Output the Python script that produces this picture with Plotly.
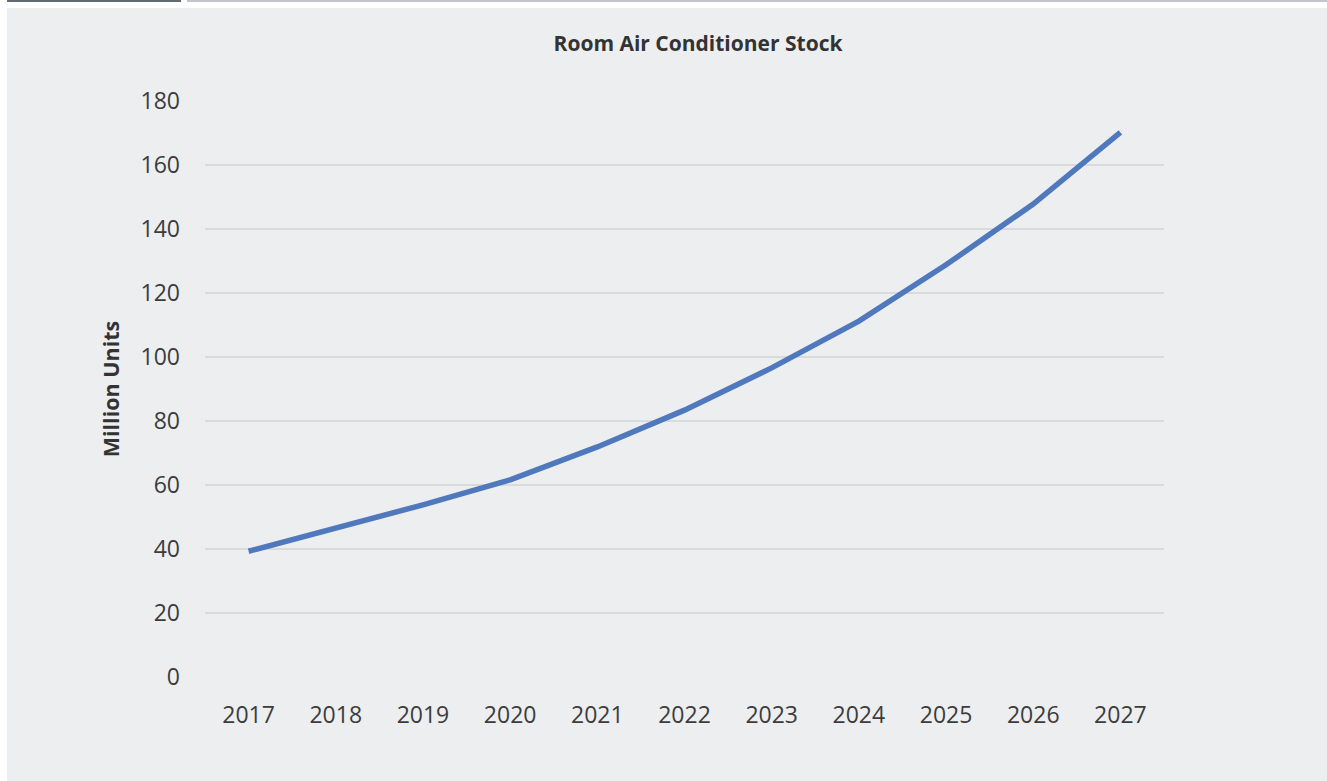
import plotly.graph_objects as go

# ==========================================================
# Data
# ==========================================================

years = ["2017", "2018", "2019", "2020", "2021", "2022",
         "2023", "2024", "2025", "2026", "2027"]

stock_million = [39.3, 46.4, 53.8, 61.6, 71.9, 83.4,
                 96.6, 111.2, 128.8, 147.8, 170.2]

y_ticks = [0, 20, 40, 60, 80, 100, 120, 140, 160, 180]

# ==========================================================
# Geometry (pixels)
# ==========================================================

W, H = 1327, 781
L, R, T, B = 205, 1164, 101, 677


def px_x(x):
    return (x - L) / (R - L)


def px_y(y):
    return (B - y) / (B - T)


fig = go.Figure()

fig.add_trace(
    go.Scatter(
        x=years,
        y=stock_million,
        mode="lines",
        line=dict(color="#4f78bd", width=5.5, shape="linear"),
        showlegend=False,
    )
)

# panel background + header strips
shapes = [
    dict(type="rect", xref="paper", yref="paper",
         x0=px_x(7), x1=px_x(W + 5), y0=px_y(H + 5), y1=px_y(8),
         fillcolor="#edeef0", line=dict(width=0), layer="below"),
    dict(type="rect", xref="paper", yref="paper",
         x0=px_x(7), x1=px_x(181), y0=px_y(2), y1=px_y(-1),
         fillcolor="#5f6b73", line=dict(width=0), layer="below"),
    dict(type="rect", xref="paper", yref="paper",
         x0=px_x(187), x1=px_x(W + 5), y0=px_y(2), y1=px_y(-1),
         fillcolor="#bfc6cc", line=dict(width=0), layer="below"),
]

fig.update_layout(
    width=W,
    height=H,
    paper_bgcolor="white",
    plot_bgcolor="rgba(0,0,0,0)",
    margin=dict(l=L, r=W - R, t=T, b=H - B, autoexpand=False),
    font=dict(family="Open Sans", color="#3c3c3c"),
    title=dict(
        text="<b>Room Air Conditioner Stock</b>",
        x=px_x(698), xref="paper", xanchor="center",
        y=1 - 44 / H, yanchor="middle",
        font=dict(size=21, color="#333333"),
    ),
    shapes=shapes,
    xaxis=dict(
        range=[-0.5, len(years) - 0.5],
        showgrid=False,
        showline=False,
        zeroline=False,
        tickfont=dict(size=23, color="#3c3c3c"),
        ticklabelstandoff=22,
        fixedrange=True,
    ),
    yaxis=dict(
        range=[0, 180],
        tickvals=y_ticks,
        showgrid=True,
        gridcolor="#d9dadc",
        gridwidth=1.5,
        zeroline=False,
        showline=False,
        tickfont=dict(size=23, color="#3c3c3c"),
        ticklabelstandoff=24,
        title=dict(
            text="<b>Million Units</b>",
            font=dict(size=21.5, color="#333333"),
            standoff=15,
        ),
        fixedrange=True,
    ),
)

fig.write_html(
    "out.html",
    config={"displayModeBar": False},
    post_script="document.body.style.margin='0';",
)
